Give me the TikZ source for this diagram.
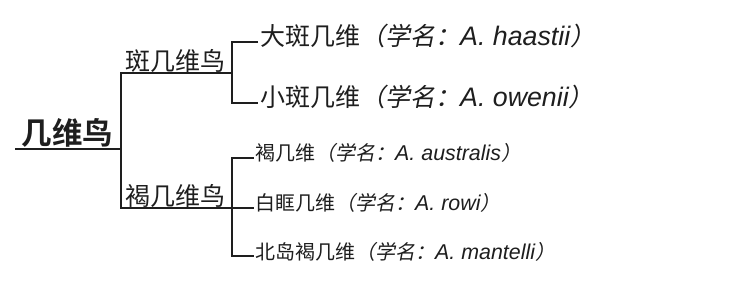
\documentclass[tikz,border=0pt]{standalone}
\usepackage{fontspec}
\newfontfamily\cjk[BoldFont={Noto Sans CJK SC Bold}]{Noto Sans CJK SC}
\newfontfamily\cjksl[FakeSlant=0.2]{Noto Sans CJK SC}
\newfontfamily\lat[Scale=1.07]{Liberation Sans}
\newcommand\sciname[1]{{\cjksl （学名：}{\lat\itshape #1}{\cjksl ）}}
\definecolor{ink}{HTML}{1E1E1E}
\tikzset{
  ln/.style={draw=ink, line width=2pt, line join=miter},
  lbl/.style={anchor=base west, inner sep=0pt, text=ink},
  rootlbl/.style={lbl, font=\cjk\bfseries\fontsize{30.5}{30.5}\selectfont},
  midlbl/.style={lbl, font=\cjk\fontsize{25}{25}\selectfont},
  leafa/.style={lbl, font=\cjk\fontsize{25}{25}\selectfont},
  leafb/.style={lbl, font=\cjk\fontsize{20}{20}\selectfont},
}
\begin{document}
\begin{tikzpicture}[x=1pt,y=-1pt]
\useasboundingbox (0,0) rectangle (732,302);
% labels
\node[rootlbl] (root) at (21.5,144.5) {几维鸟};
\node[midlbl] (b1) at (125,71) {斑几维鸟};
\node[midlbl] (b2) at (125,205.5) {褐几维鸟};
\node[leafa] (la1) at (260,45.5) {大斑几维\sciname{A. haastii}};
\node[leafa] (la2) at (260,106.5) {小斑几维\sciname{A. owenii}};
\node[leafb] (lb1) at (255,160.5) {褐几维\sciname{A. australis}};
\node[leafb] (lb2) at (255,211) {白眶几维\sciname{A. rowi}};
\node[leafb] (lb3) at (255,259.5) {北岛褐几维\sciname{A. mantelli}};
% junction coordinates
\coordinate (rs) at (15,149);
\coordinate (rj) at (121,149);
\coordinate (b1s) at (121,73.5);
\coordinate (b1e) at (232,73.5);
\coordinate (b2s) at (121,208.5);
\coordinate (b2e) at (232,208.5);
\coordinate (ta1) at (258,42);
\coordinate (ta2) at (258,103.5);
\coordinate (tb1) at (253.5,158.5);
\coordinate (tb2) at (253.5,208.5);
\coordinate (tb3) at (253.5,256.5);
% connectors
\draw[ln] (rs) -- (rj);
\draw[ln] (b1e) -- (b1s) -- (b2s) -- (b2e);
\draw[ln] (ta1) -| (b1e) |- (ta2);
\draw[ln] (tb1) -| (b2e) |- (tb3);
\draw[ln] (b2e) -- (tb2);
\end{tikzpicture}
\end{document}
